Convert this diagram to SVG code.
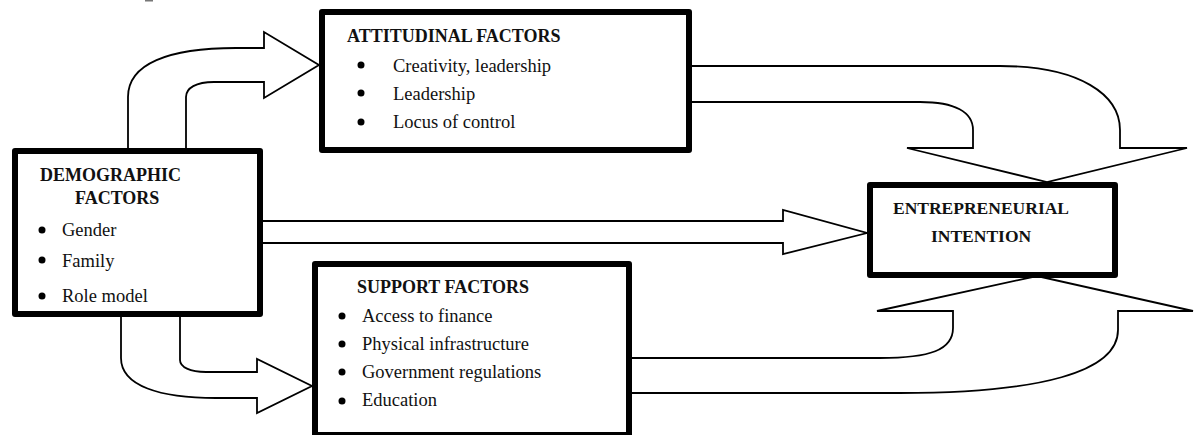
<svg xmlns="http://www.w3.org/2000/svg" width="1195" height="435" viewBox="0 0 1195 435">
  <style>
    .box { fill: #fff; stroke: #000; stroke-width: 6; stroke-linejoin: round; }
    .arrow { fill: #fff; stroke: #000; stroke-width: 1.8; stroke-linejoin: miter; }
    .head { font-family: "Liberation Serif", "Times New Roman", serif; font-weight: bold; font-size: 18px; fill: #111; }
    .item { font-family: "Liberation Serif", "Times New Roman", serif; font-size: 18.5px; fill: #111; }
    .dot { fill: #000; }
  </style>
  <rect x="0" y="0" width="1195" height="435" fill="#fff"/>
  <rect x="145" y="0" width="8" height="1.5" fill="#777"/>

  <!-- block arrows (drawn first so the boxes cover their tips) -->
  <g id="connectors">
    <!-- demographic -> attitudinal -->
    <path class="arrow" d="M128,149 L128,97 C128,64 168,48 236,48 L264,48 L264,32 L319,65 L264,98 L264,82 L214,82 C196,82 186,88 186,97 L186,149 Z"/>
    <!-- demographic -> entrepreneurial intention -->
    <path class="arrow" d="M262,221 L783,221 L783,210 L867,233 L783,254 L783,243 L262,243 Z"/>
    <!-- demographic -> support -->
    <path class="arrow" d="M121,316 L121,358 C121,386 160,398 216,398 L257,398 L257,413 L312,386 L257,359 L257,372 L206,372 C190,372 180,367 180,360 L180,316 Z"/>
    <!-- attitudinal -> entrepreneurial intention -->
    <path class="arrow" d="M691,66 L1000,66 C1080,66 1120,95 1120,130 L1120,148 L1187,148 L1047,182 L907,148 L973,148 L973,130 C973,112 955,102 920,102 L691,102 Z"/>
    <!-- support -> entrepreneurial intention -->
    <path class="arrow" d="M631,393 L900,393 C1040,393 1118,372 1118,330 L1118,311 L1193,311 L1037,276 L877,311 L953,311 L953,328 C953,350 930,358 880,358 L631,358 Z"/>
  </g>

  <g id="attitudinal">
    <rect class="box" x="322" y="12" width="367" height="138"/>
    <text class="head" x="347" y="42">ATTITUDINAL FACTORS</text>
    <circle class="dot" cx="361" cy="65" r="3.5"/>
    <circle class="dot" cx="361" cy="93" r="3.5"/>
    <circle class="dot" cx="361" cy="122" r="3.5"/>
    <text class="item" x="393" y="72">Creativity, leadership</text>
    <text class="item" x="393" y="100">Leadership</text>
    <text class="item" x="393" y="128">Locus of control</text>
  </g>

  <g id="demographic">
    <rect class="box" x="15" y="151" width="245" height="163"/>
    <text class="head" x="40" y="181">DEMOGRAPHIC</text>
    <text class="head" x="75" y="204">FACTORS</text>
    <circle class="dot" cx="42" cy="230" r="3.5"/>
    <circle class="dot" cx="42" cy="260" r="3.5"/>
    <circle class="dot" cx="42" cy="296" r="3.5"/>
    <text class="item" x="62" y="236">Gender</text>
    <text class="item" x="62" y="267">Family</text>
    <text class="item" x="62" y="302">Role model</text>
  </g>

  <g id="entrepreneurial">
    <rect class="box" x="870" y="185" width="245" height="90"/>
    <text class="head" x="893" y="214" style="font-size:17.5px">ENTREPRENEURIAL</text>
    <text class="head" x="931" y="242" style="font-size:17.5px">INTENTION</text>
  </g>

  <g id="support">
    <rect class="box" x="315" y="264" width="314" height="171"/>
    <text class="head" x="357" y="293">SUPPORT FACTORS</text>
    <circle class="dot" cx="342" cy="316" r="3.5"/>
    <circle class="dot" cx="342" cy="344" r="3.5"/>
    <circle class="dot" cx="342" cy="372" r="3.5"/>
    <circle class="dot" cx="342" cy="401" r="3.5"/>
    <text class="item" x="362" y="322">Access to finance</text>
    <text class="item" x="362" y="350">Physical infrastructure</text>
    <text class="item" x="362" y="378">Government regulations</text>
    <text class="item" x="362" y="406">Education</text>
  </g>
</svg>
